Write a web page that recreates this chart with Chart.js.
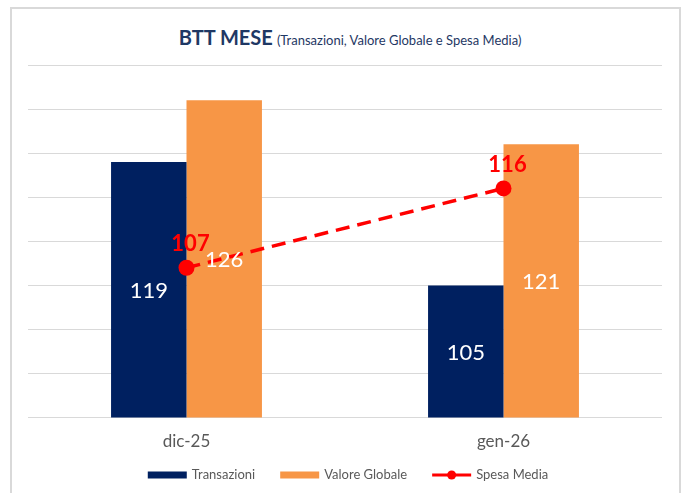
<!DOCTYPE html>
<html>
<head>
<meta charset="utf-8">
<script src="https://cdn.jsdelivr.net/npm/chart.js@4.4.1/dist/chart.umd.min.js"></script>
<style>
  html, body { margin: 0; padding: 0; background: #fff; }
  body { width: 683px; height: 493px; position: relative; overflow: hidden; font-family: Lato, "Open Sans", sans-serif; }
  #frame { position: absolute; left: 10px; top: 7px; width: 671px; height: 520px; border: 2px solid #d9d9d9; box-sizing: border-box; }
  #title { position: absolute; left: 0; width: 700px; top: 25px; text-align: center; color: #1f3864; white-space: nowrap; }
  #title b { font-size: 20px; }
  #title span { font-size: 13px; }
  #chart { position: absolute; left: 0; top: 0; }
</style>
</head>
<body>
<div id="frame"></div>
<div id="title"><b>BTT MESE</b> <span>(Transazioni, Valore Globale e Spesa Media)</span></div>
<canvas id="chart" width="683" height="493"></canvas>
<script>
  // data
  const categories = ["dic-25", "gen-26"];
  const transazioni = [119, 105];
  const valoreGlobale = [126, 121];
  const spesaMedia = [107, 116];
  const yTicks = [90, 95, 100, 105, 110, 115, 120, 125, 130];

  const NAVY = "#002060";
  const ORANGE = "#F79646";
  const RED = "#FF0000";

  // value labels: white in the middle of bars, red bold above line points
  const valueLabels = {
    id: "valueLabels",
    afterDatasetsDraw(chart) {
      const ctx = chart.ctx;
      const bottom = chart.chartArea.bottom;
      ctx.save();
      ctx.textAlign = "center";
      ctx.textBaseline = "middle";
      chart.data.datasets.forEach((ds, i) => {
        const meta = chart.getDatasetMeta(i);
        meta.data.forEach((el, j) => {
          const v = ds.data[j];
          if (ds.type === "line") {
            ctx.font = "bold 22px Lato";
            ctx.fillStyle = RED;
            ctx.fillText(v, el.x + 4, el.y - 24);
          } else {
            // bars start below the visible range, so use the clipped bottom
            const base = Math.min(el.base, bottom);
            ctx.font = "22px Lato";
            ctx.fillStyle = "#ffffff";
            ctx.fillText(v, el.x, (el.y + base) / 2 + 1);
          }
        });
      });
      ctx.restore();
    }
  };

  // legend drawn by hand so it sits where the reference has it
  const bottomLegend = {
    id: "bottomLegend",
    afterDraw(chart) {
      const ctx = chart.ctx;
      const y = 475;
      const sw = 39, gap = 5, spacing = 25;
      ctx.save();
      ctx.font = "13px Lato";
      ctx.textBaseline = "middle";
      const items = chart.data.datasets.map((ds) => ({ ds, w: ctx.measureText(ds.label).width }));
      const total = items.reduce((s, it) => s + sw + gap + it.w, 0) + spacing * (items.length - 1);
      let x = 348 - total / 2;
      items.forEach(({ ds, w }) => {
        if (ds.type === "line") {
          ctx.strokeStyle = ds.borderColor;
          ctx.lineWidth = 3;
          ctx.beginPath();
          ctx.moveTo(x, y); ctx.lineTo(x + sw, y);
          ctx.stroke();
          ctx.fillStyle = ds.borderColor;
          ctx.beginPath();
          ctx.arc(x + sw / 2, y, 4.5, 0, Math.PI * 2);
          ctx.fill();
        } else {
          ctx.fillStyle = ds.backgroundColor;
          ctx.fillRect(x, y - 3.5, sw, 7);
        }
        ctx.fillStyle = "#595959";
        ctx.fillText(ds.label, x + sw + gap, y);
        x += sw + gap + w + spacing;
      });
      ctx.restore();
    }
  };

  new Chart(document.getElementById("chart").getContext("2d"), {
    data: {
      labels: categories,
      datasets: [
        {
          type: "bar",
          label: "Transazioni",
          data: transazioni,
          backgroundColor: NAVY,
          categoryPercentage: 0.476,
          barPercentage: 1,
          order: 2,
        },
        {
          type: "bar",
          label: "Valore Globale",
          data: valoreGlobale,
          backgroundColor: ORANGE,
          categoryPercentage: 0.476,
          barPercentage: 1,
          order: 2,
        },
        {
          type: "line",
          label: "Spesa Media",
          data: spesaMedia,
          borderColor: RED,
          borderWidth: 3.5,
          borderDash: [14, 8],
          pointRadius: 8,
          pointBackgroundColor: RED,
          pointBorderWidth: 0,
          order: 1,
        },
      ],
    },
    options: {
      responsive: false,
      animation: false,
      layout: { padding: { left: 28, right: 21, top: 65, bottom: 27 } },
      scales: {
        x: {
          grid: { display: false, drawTicks: false },
          border: { display: false },
          ticks: { color: "#595959", font: { family: "Lato", size: 17 }, padding: 14 },
        },
        y: {
          min: yTicks[0],
          max: yTicks[yTicks.length - 1],
          afterBuildTicks: (axis) => { axis.ticks = yTicks.map((v) => ({ value: v })); },
          grid: { color: "#D9D9D9", lineWidth: 1, drawTicks: false },
          border: { display: false },
          ticks: { display: false },
        },
      },
      plugins: {
        tooltip: { enabled: false },
        legend: { display: false },
      },
    },
    plugins: [valueLabels, bottomLegend],
  });
</script>
</body>
</html>
